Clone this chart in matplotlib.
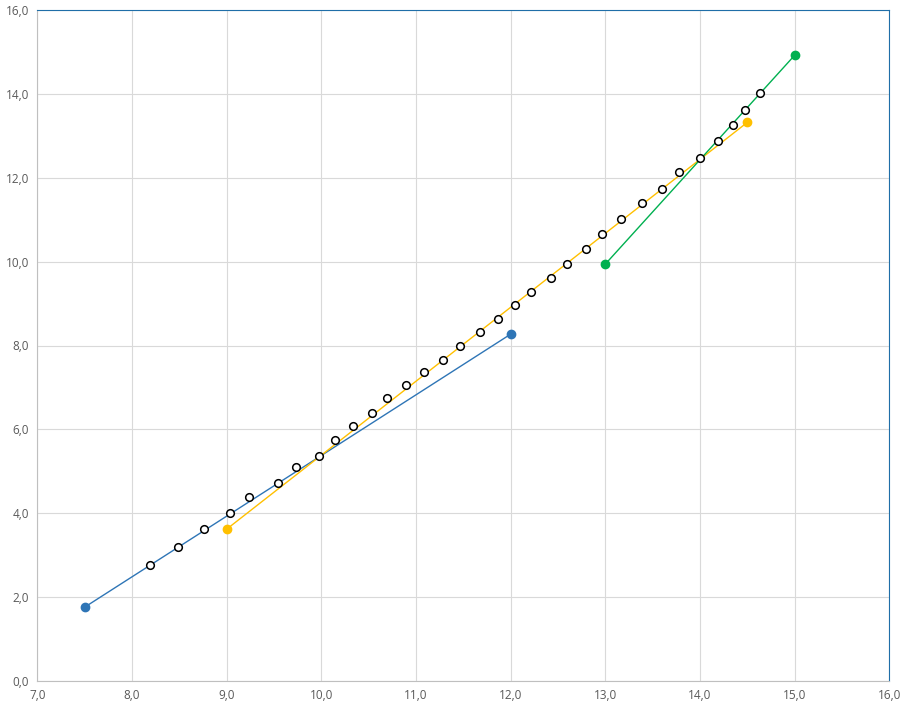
import matplotlib.pyplot as plt
from matplotlib.ticker import FuncFormatter

# series endpoints
blue_x = [7.5, 12.0]
blue_y = [1.76, 8.27]
yellow_x = [9.0, 14.5]
yellow_y = [3.62, 13.32]
green_x = [13.0, 15.0]
green_y = [9.94, 14.92]

# open circle points
pts_x = [8.19, 8.49, 8.76, 9.04, 9.24, 9.54, 9.73, 9.98, 10.15, 10.33, 10.54,
         10.69, 10.89, 11.09, 11.29, 11.46, 11.68, 11.87, 12.05, 12.21, 12.43,
         12.60, 12.80, 12.97, 13.17, 13.39, 13.60, 13.78, 14.00, 14.19, 14.35,
         14.48, 14.63]
pts_y = [2.76, 3.19, 3.62, 4.00, 4.38, 4.73, 5.10, 5.36, 5.74, 6.07, 6.38,
         6.74, 7.07, 7.38, 7.65, 8.00, 8.31, 8.62, 8.96, 9.27, 9.60,
         9.94, 10.29, 10.67, 11.02, 11.39, 11.72, 12.13, 12.46, 12.87, 13.25,
         13.61, 14.01]

plt.rcParams['font.family'] = ['Open Sans', 'DejaVu Sans']

fig = plt.figure(figsize=(9.03, 7.03), dpi=100)
ax = fig.add_axes([37.3 / 903, 22 / 703, 852 / 903, 671 / 703])

ax.plot(blue_x, blue_y, color='#2E75B6', lw=1, marker='o', ms=6, zorder=3)
ax.plot(yellow_x, yellow_y, color='#FFC000', lw=1, marker='o', ms=6, zorder=3)
ax.plot(green_x, green_y, color='#00B050', lw=1, marker='o', ms=6, zorder=3)
ax.plot(pts_x, pts_y, ls='none', marker='o', ms=5.5, mfc='white', mec='black',
        mew=1.1, zorder=4)

ax.set_xlim(7, 16)
ax.set_ylim(0, 16)
ax.set_xticks(range(7, 17))
ax.set_yticks(range(0, 17, 2))
fmt = FuncFormatter(lambda v, p: f'{v:.1f}'.replace('.', ','))
ax.xaxis.set_major_formatter(fmt)
ax.yaxis.set_major_formatter(fmt)
ax.tick_params(length=0, labelsize=8.5, colors='#595959', pad=6)
ax.grid(color='#D9D9D9', lw=0.8)
ax.set_axisbelow(True)
for s in ['left', 'bottom']:
    ax.spines[s].set_color('#BFBFBF')
for s in ['top', 'right']:
    ax.spines[s].set_color('#1F6EA8')

fig.savefig('out.png', dpi=100)
